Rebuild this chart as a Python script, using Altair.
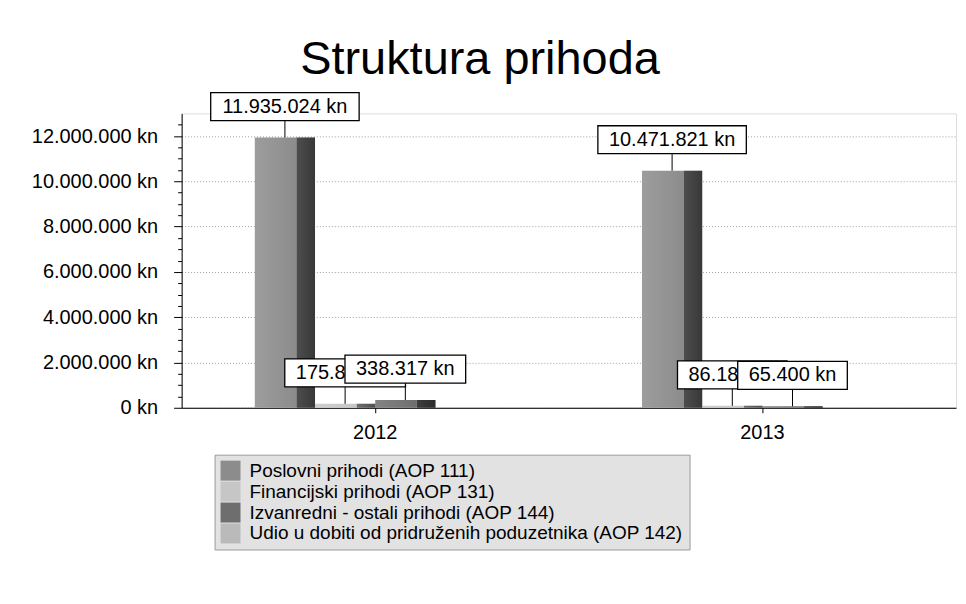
import altair as alt
import pandas as pd

# ---- data ----
years = ["2012", "2013"]
series = [
    "Poslovni prihodi (AOP 111)",
    "Financijski prihodi (AOP 131)",
    "Izvanredni - ostali prihodi (AOP 144)",
    "Udio u dobiti od pridruženih poduzetnika (AOP 142)",
]
values_2012 = [11935024, 175826, 338317, 0]
values_2013 = [10471821, 86183, 65400, 0]
y_major = [0, 2000000, 4000000, 6000000, 8000000, 10000000, 12000000]
y_minor_step = 500000
colors = ["#8c8c8c", "#c6c6c6", "#6e6e6e", "#bababa"]

rows = []
for yr, vals in zip(years, [values_2012, values_2013]):
    for i, (s, v) in enumerate(zip(series, vals)):
        rows.append({"year": yr, "series": s, "idx": i, "value": v})
df = pd.DataFrame(rows)

y_ticks = list(range(0, 12500001, y_minor_step))

FONT = "Liberation Sans"

x_enc = alt.X(
    "year:N",
    sort=years,
    scale=alt.Scale(paddingInner=0.378, paddingOuter=0.189),
    axis=alt.Axis(
        title=None, labelAngle=0, labelFont=FONT, labelFontSize=20,
        labelColor="black", domainColor="black", tickColor="black",
        tickSize=5, labelPadding=10, grid=False,
    ),
)
xo_enc = alt.XOffset("series:N", sort=series,
                     scale=alt.Scale(domain=series, paddingInner=0, paddingOuter=0))
y_enc = alt.Y(
    "value:Q",
    scale=alt.Scale(domain=[0, 13000000], nice=False),
    axis=alt.Axis(
        title=None, values=y_ticks,
        labelExpr="datum.value % 2000000 === 0 ? replace(format(datum.value, ','), regexp(',', 'g'), '.') + ' kn' : ''",
        labelFont=FONT, labelFontSize=20, labelColor="black", labelPadding=16,
        domainColor="black", tickColor="black",
        tickSize={"condition": {"test": "datum.value % 2000000 === 0", "value": 8}, "value": 4},
        grid=True, gridColor="#a0a0a0", gridDash=[1, 2],
        gridOpacity={"condition": {"test": "datum.value % 2000000 === 0", "value": 1}, "value": 0},
    ),
)

base = alt.Chart(df).encode(x=x_enc, xOffset=xo_enc, y=y_enc)

bars = base.mark_bar().encode(
    color=alt.Color(
        "series:N", sort=series,
        scale=alt.Scale(domain=series, range=colors),
        legend=alt.Legend(
            title=None, orient="none", legendX=33, legendY=342, direction="vertical",
            fillColor="#e2e2e2", strokeColor="#9a9a9a", padding=6,
            symbolType="square", symbolSize=400, symbolStrokeWidth=0,
            labelFont=FONT, labelFontSize=19, labelColor="black", labelLimit=700,
            labelOffset=9, rowPadding=1,
        ),
    )
)

shade = base.mark_bar(
    color=alt.Gradient(
        gradient="linear", x1=0, x2=1, y1=0, y2=0,
        stops=[
            alt.GradientStop(offset=0, color="rgba(255,255,255,0.15)"),
            alt.GradientStop(offset=0.68, color="rgba(255,255,255,0.0)"),
            alt.GradientStop(offset=0.70, color="rgba(0,0,0,0.45)"),
            alt.GradientStop(offset=1, color="rgba(0,0,0,0.6)"),
        ],
    )
)

lab = base.transform_filter("datum.value > 0").transform_calculate(
    label="replace(format(datum.value, ','), regexp(',', 'g'), '.') + ' kn'",
    nd="length(format(datum.value, 'd'))",
).transform_calculate(
    w="20 * (0.556 * datum.nd + 0.278 * floor((datum.nd - 1) / 3) + 1.334) + 22",
).transform_calculate(
    box="'M' + (-datum.w / 2) + ',-14H' + (datum.w / 2) + 'V14H' + (-datum.w / 2) + 'Z'",
)

leaders = lab.mark_rule(color="black", strokeWidth=1, y2Offset=-17).encode(y2="value:Q")


def box_layer(cond):
    return lab.transform_filter(cond).mark_point(
        filled=True, fill="white", stroke="black", strokeWidth=1.3, opacity=1, yOffset=-31
    ).encode(shape=alt.Shape("box:N", scale=None, legend=None), size=alt.value(4))


def text_layer(cond):
    return lab.transform_filter(cond).mark_text(
        dy=-31, font=FONT, fontSize=20, color="black", baseline="middle", align="center"
    ).encode(text="label:N")


chart = alt.layer(
    bars, shade, leaders,
    box_layer("datum.idx < 2"), text_layer("datum.idx < 2"),
    box_layer("datum.idx >= 2"), text_layer("datum.idx >= 2"),
).properties(
    width=776, height=295,
    title=alt.TitleParams(
        "Struktura prihoda", font=FONT, fontSize=47,
        fontWeight="normal", color="black", anchor="middle", frame="group",
        dx=-89, offset=-41, baseline="bottom",
    ),
    autosize=alt.AutoSizeParams(type="none"),
    padding={"left": 174, "top": 105, "right": 2, "bottom": 180},
).configure_view(
    fill="#e4e4e4", stroke="#8a8a8a", strokeWidth=1
).configure(background="white")

chart.save("out.html", embed_options={"renderer": "svg", "actions": False})
